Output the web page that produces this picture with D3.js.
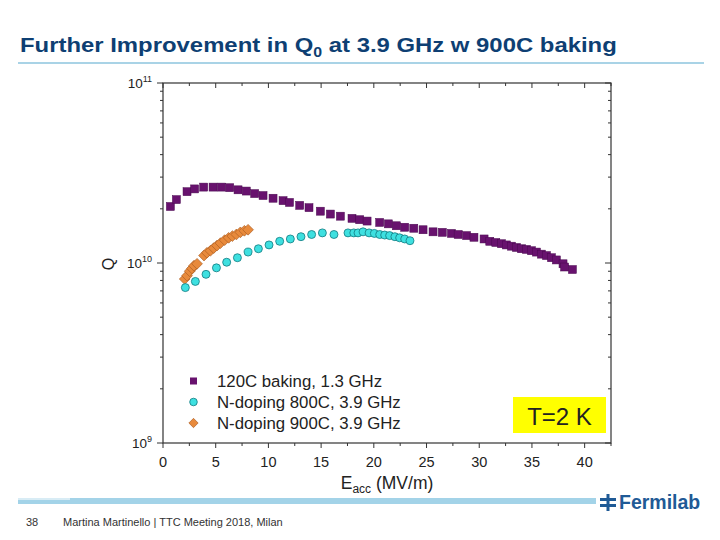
<!DOCTYPE html>
<html>
<head>
<meta charset="utf-8">
<script src="https://cdn.jsdelivr.net/npm/d3@7"></script>
<style>
  body { margin: 0; background: #fff; }
  svg { font-family: "Liberation Sans", Arial, sans-serif; }
</style>
</head>
<body>
<script>
// 120C baking, 1.3 GHz
var bakeE = [0.7, 1.27, 2.28, 3.0, 3.86, 4.75, 5.54, 6.33, 7.12, 7.9, 8.7, 9.49, 10.44, 11.39, 12.0, 12.97, 13.85,
  14.93, 15.88, 16.83, 17.93, 18.66, 19.36, 20.56, 21.38, 22.14, 22.93, 23.79, 24.67, 25.62, 26.5, 27.36, 28.0,
  28.8, 29.5, 30.46, 31.0, 31.57, 32.1, 32.58, 33.06, 33.53, 34.0, 34.48, 34.95, 35.43, 35.9, 36.38, 36.85,
  37.32, 37.95, 38.1, 38.84];
var bakeQ = [2.06e10, 2.25e10, 2.49e10, 2.58e10, 2.64e10, 2.64e10, 2.64e10, 2.62e10, 2.55e10, 2.51e10, 2.43e10,
  2.37e10, 2.29e10, 2.22e10, 2.17e10, 2.09e10, 2.03e10, 1.94e10, 1.87e10, 1.82e10, 1.77e10, 1.74e10, 1.71e10,
  1.68e10, 1.65e10, 1.61e10, 1.58e10, 1.56e10, 1.53e10, 1.49e10, 1.48e10, 1.46e10, 1.44e10, 1.42e10, 1.39e10,
  1.36e10, 1.32e10, 1.30e10, 1.28e10, 1.26e10, 1.24e10, 1.22e10, 1.20e10, 1.19e10, 1.17e10, 1.15e10, 1.12e10,
  1.10e10, 1.07e10, 1.04e10, 0.99e10, 0.95e10, 0.92e10];

// N-doping 800C, 3.9 GHz
var n800E = [2.12, 3.07, 4.08, 5.07, 6.04, 7.06, 8.07, 9.05, 10.06, 11.07, 12.08, 13.09, 14.1, 15.12, 16.22,
  17.55, 18.1, 18.5, 18.98, 19.55, 20.05, 20.56, 21.03, 21.5, 22.0, 22.45, 22.93, 23.43];
var n800Q = [0.73e10, 0.79e10, 0.865e10, 0.94e10, 1.01e10, 1.07e10, 1.15e10, 1.20e10, 1.26e10, 1.32e10, 1.36e10,
  1.40e10, 1.44e10, 1.47e10, 1.44e10, 1.47e10, 1.47e10, 1.47e10, 1.49e10, 1.47e10, 1.46e10, 1.44e10, 1.43e10,
  1.42e10, 1.40e10, 1.38e10, 1.36e10, 1.33e10];

// N-doping 900C, 3.9 GHz
var n900E = [2.06, 2.28, 2.53, 2.75, 2.94, 3.23, 3.89, 4.17, 4.5, 4.81, 5.12, 5.45, 5.85, 6.23, 6.58, 6.96,
  7.34, 7.72, 8.07];
var n900Q = [0.815e10, 0.85e10, 0.90e10, 0.933e10, 0.966e10, 0.99e10, 1.10e10, 1.14e10, 1.17e10, 1.21e10,
  1.25e10, 1.29e10, 1.34e10, 1.38e10, 1.41e10, 1.44e10, 1.48e10, 1.51e10, 1.53e10];

var xTicks = [0, 5, 10, 15, 20, 25, 30, 35, 40];
var yDecades = [9, 10, 11];
var legendLabels = ["120C baking, 1.3 GHz", "N-doping 800C, 3.9 GHz", "N-doping 900C, 3.9 GHz"];

var svg = d3.select("body").append("svg")
  .attr("width", 720)
  .attr("height", 540);

// slide title, stretched to the width it has on the slide
var titleG = svg.append("g");
var title = titleG.append("text")
  .attr("x", 0)
  .attr("y", 0)
  .attr("font-size", "21px")
  .attr("font-weight", "bold")
  .attr("fill", "#0e3f73");
title.append("tspan").text("Further Improvement in Q");
title.append("tspan").attr("font-size", "14px").attr("dy", 5).text("0");
title.append("tspan").attr("dy", -5).text(" at 3.9 GHz w 900C baking");
var tw = title.node().getBBox().width;
titleG.attr("transform", `translate(20, 52) scale(${597 / tw}, 1)`);

svg.append("rect")
  .attr("x", 18).attr("y", 62).attr("width", 686).attr("height", 2)
  .attr("fill", "#a9d3e6");

// chart area
var margin = {left: 163, top: 83, right: 611, bottom: 443};

var x = d3.scaleLinear()
  .domain([0, 42.5])
  .range([margin.left, margin.right]);

var y = d3.scaleLog()
  .domain([1e9, 1e11])
  .range([margin.bottom, margin.top]);

var chart = svg.append("g");

chart.append("rect")
  .attr("x", margin.left).attr("y", margin.top)
  .attr("width", margin.right - margin.left)
  .attr("height", margin.bottom - margin.top)
  .attr("fill", "none")
  .attr("stroke", "#333")
  .attr("stroke-width", 1.2);

// x ticks: major every 5, minor every 2.5
var xMinor = d3.range(0, 42.6, 2.5);
xMinor.forEach(function (v) {
  var major = v % 5 === 0;
  var len = major ? 5 : 3;
  chart.append("line")
    .attr("x1", x(v)).attr("x2", x(v))
    .attr("y1", margin.bottom).attr("y2", margin.bottom + len)
    .attr("stroke", "#333");
  chart.append("line")
    .attr("x1", x(v)).attr("x2", x(v))
    .attr("y1", margin.top).attr("y2", margin.top + len)
    .attr("stroke", "#333");
});

chart.selectAll(".xlab")
  .data(xTicks)
  .enter()
  .append("text")
  .attr("class", "xlab")
  .attr("x", d => x(d))
  .attr("y", 467)
  .attr("text-anchor", "middle")
  .attr("font-size", "14.5px")
  .attr("fill", "#222")
  .text(d => d);

// y ticks: decades + log minor ticks
var yMinor = [];
[9, 10].forEach(function (e) {
  for (var m = 2; m <= 9; m++) yMinor.push(m * Math.pow(10, e));
});
yMinor.forEach(function (v) {
  chart.append("line")
    .attr("x1", margin.left - 3).attr("x2", margin.left)
    .attr("y1", y(v)).attr("y2", y(v))
    .attr("stroke", "#333");
  chart.append("line")
    .attr("x1", margin.right - 3).attr("x2", margin.right)
    .attr("y1", y(v)).attr("y2", y(v))
    .attr("stroke", "#333");
});
yDecades.forEach(function (e) {
  var v = Math.pow(10, e);
  chart.append("line")
    .attr("x1", margin.left - 6).attr("x2", margin.left)
    .attr("y1", y(v)).attr("y2", y(v))
    .attr("stroke", "#333");
  chart.append("line")
    .attr("x1", margin.right - 6).attr("x2", margin.right)
    .attr("y1", y(v)).attr("y2", y(v))
    .attr("stroke", "#333");
  var t = chart.append("text")
    .attr("x", margin.left - 11)
    .attr("y", y(v) + 5)
    .attr("text-anchor", "end")
    .attr("font-size", "13.5px")
    .attr("fill", "#222");
  t.append("tspan").text("10");
  t.append("tspan").attr("font-size", "9px").attr("dy", -6).text(e);
});

// axis titles
chart.append("text")
  .attr("transform", "translate(114, 264) rotate(-90)")
  .attr("text-anchor", "middle")
  .attr("font-size", "16px")
  .attr("fill", "#222")
  .text("Q");

var xt = chart.append("text")
  .attr("x", 387)
  .attr("y", 489)
  .attr("text-anchor", "middle")
  .attr("font-size", "17.5px")
  .attr("fill", "#222");
xt.append("tspan").text("E");
xt.append("tspan").attr("font-size", "12px").attr("dy", 4).text("acc");
xt.append("tspan").attr("dy", -4).text(" (MV/m)");

// series
var bake = bakeE.map((e, i) => ({e: e, q: bakeQ[i]}));
var n800 = n800E.map((e, i) => ({e: e, q: n800Q[i]}));
var n900 = n900E.map((e, i) => ({e: e, q: n900Q[i]}));

chart.selectAll(".n900")
  .data(n900)
  .enter()
  .append("rect")
  .attr("class", "n900")
  .attr("x", -3.8).attr("y", -3.8)
  .attr("width", 7.6).attr("height", 7.6)
  .attr("transform", d => `translate(${x(d.e)}, ${y(d.q)}) rotate(45)`)
  .attr("fill", "#e88a3c")
  .attr("stroke", "#a85a20")
  .attr("stroke-width", 0.6);

chart.selectAll(".n800")
  .data(n800)
  .enter()
  .append("circle")
  .attr("class", "n800")
  .attr("cx", d => x(d.e))
  .attr("cy", d => y(d.q))
  .attr("r", 4)
  .attr("fill", "#3ee0e0")
  .attr("stroke", "#127a80")
  .attr("stroke-width", 0.8);

chart.selectAll(".bake")
  .data(bake)
  .enter()
  .append("rect")
  .attr("class", "bake")
  .attr("x", d => x(d.e) - 4)
  .attr("y", d => y(d.q) - 4)
  .attr("width", 8).attr("height", 8)
  .attr("fill", "#68126e")
  .attr("stroke", "#4a0a50")
  .attr("stroke-width", 0.5);

// legend
var legY = [381, 402, 423];
chart.append("rect")
  .attr("x", 190).attr("y", legY[0] - 3.5).attr("width", 7).attr("height", 7)
  .attr("fill", "#68126e");
chart.append("circle")
  .attr("cx", 193.5).attr("cy", legY[1]).attr("r", 3.8)
  .attr("fill", "#3ee0e0").attr("stroke", "#127a80").attr("stroke-width", 0.8);
chart.append("rect")
  .attr("x", -3.3).attr("y", -3.3).attr("width", 6.6).attr("height", 6.6)
  .attr("transform", `translate(193.5, ${legY[2]}) rotate(45)`)
  .attr("fill", "#e88a3c").attr("stroke", "#a85a20").attr("stroke-width", 0.6);

chart.selectAll(".leg")
  .data(legendLabels)
  .enter()
  .append("text")
  .attr("class", "leg")
  .attr("x", 217)
  .attr("y", (d, i) => legY[i] + 6)
  .attr("font-size", "16.8px")
  .attr("fill", "#222")
  .text(d => d);

// temperature box
chart.append("rect")
  .attr("x", 513).attr("y", 397).attr("width", 93).attr("height", 36)
  .attr("fill", "#ffff00");
chart.append("text")
  .attr("x", 559.5)
  .attr("y", 425)
  .attr("text-anchor", "middle")
  .attr("font-size", "24px")
  .attr("fill", "#222")
  .text("T=2 K");

// footer
svg.append("rect")
  .attr("x", 18).attr("y", 498).attr("width", 578).attr("height", 6)
  .attr("fill", "#a3d3e8");
svg.append("rect")
  .attr("x", 18).attr("y", 498).attr("width", 52).attr("height", 2)
  .attr("fill", "#d8ecf5");

svg.append("text")
  .attr("x", 26).attr("y", 526)
  .attr("font-size", "11px").attr("fill", "#333")
  .text("38");
svg.append("text")
  .attr("x", 63).attr("y", 526)
  .attr("font-size", "11px").attr("fill", "#333")
  .text("Martina Martinello | TTC Meeting 2018, Milan");

// Fermilab mark
var logo = svg.append("g").attr("fill", "#1f5a96");
logo.append("rect").attr("x", 600).attr("y", 498).attr("width", 16).attr("height", 3);
logo.append("rect").attr("x", 600).attr("y", 504).attr("width", 16).attr("height", 3);
logo.append("rect").attr("x", 606.5).attr("y", 494).attr("width", 3).attr("height", 17);
svg.append("text")
  .attr("x", 619).attr("y", 509)
  .attr("font-size", "19.5px").attr("font-weight", "bold")
  .attr("fill", "#1f5a96")
  .text("Fermilab");
</script>
</body>
</html>
